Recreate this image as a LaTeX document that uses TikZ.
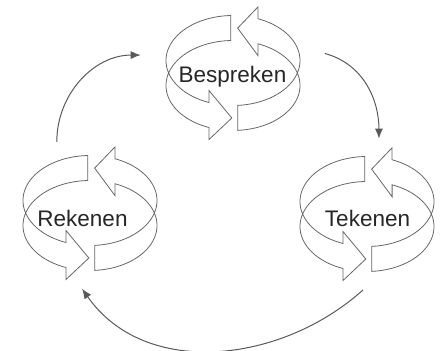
\documentclass[tikz,border=0pt]{standalone}
\usepackage{fontspec}
\setmainfont{Liberation Sans}
\usetikzlibrary{arrows.meta,shapes.geometric}

\tikzset{
  ringline/.style={draw=black!60, line width=0.8pt},
  ringbox/.style={ellipse, minimum width=190pt, minimum height=152pt, inner sep=0pt, outer sep=0pt},
  lbl/.style={anchor=base, text=black!85, font=\fontsize{22.5}{27}\selectfont},
  flow/.style={draw=black!65, line width=1pt, -{Latex[length=10pt,width=8pt]}},
  cycle icon/.pic={
    % left arrow: back, round the left, to the front
    \draw[ringline] plot[domain=92:249,samples=60] ({67*cos(\x)},{12.5+45*sin(\x)})
      -- ++(0,12) -- ({67*cos(269)},{45*sin(269)})
      -- ({67*cos(249)},{-24.5+45*sin(249)}) -- ({67*cos(249)},{-12.5+45*sin(249)})
      -- plot[domain=249:92,samples=60] ({67*cos(\x)},{-12.5+45*sin(\x)}) -- cycle;
    % right arrow: front, round the right, to the back
    \draw[ringline] plot[domain=274:428,samples=60] ({67*cos(\x)},{12.5+45*sin(\x)})
      -- ++(0,12) -- ({67*cos(86)},{45*sin(86)})
      -- ({67*cos(68)},{-24.5+45*sin(68)}) -- ({67*cos(68)},{-12.5+45*sin(68)})
      -- plot[domain=428:274,samples=60] ({67*cos(\x)},{-12.5+45*sin(\x)}) -- cycle;
  }
}

\begin{document}
\begin{tikzpicture}[x=1pt,y=1pt]
  \useasboundingbox (0,0) rectangle (440,351);

  \node[ringbox] (bespr) at (233,278) {};
  \node[ringbox] (reken) at (90,138) {};
  \node[ringbox] (teken) at (367,137) {};

  \pic at (bespr.center) {cycle icon};
  \pic at (reken.center) {cycle icon};
  \pic at (teken.center) {cycle icon};

  \node[lbl] (bespr-lbl) at (232.5,268) {Bespreken};
  \node[lbl] (reken-lbl) at (82.5,124) {Rekenen};
  \node[lbl] (teken-lbl) at (367.5,124) {Tekenen};

  \draw[flow] (reken.115) to[out=90,in=180] (bespr.169);
  \draw[flow] (bespr.12) to[out=-15,in=90] (teken.81);
  \draw[flow] (teken.-93) to[out=-138,in=-55] (reken.-96);
\end{tikzpicture}
\end{document}
